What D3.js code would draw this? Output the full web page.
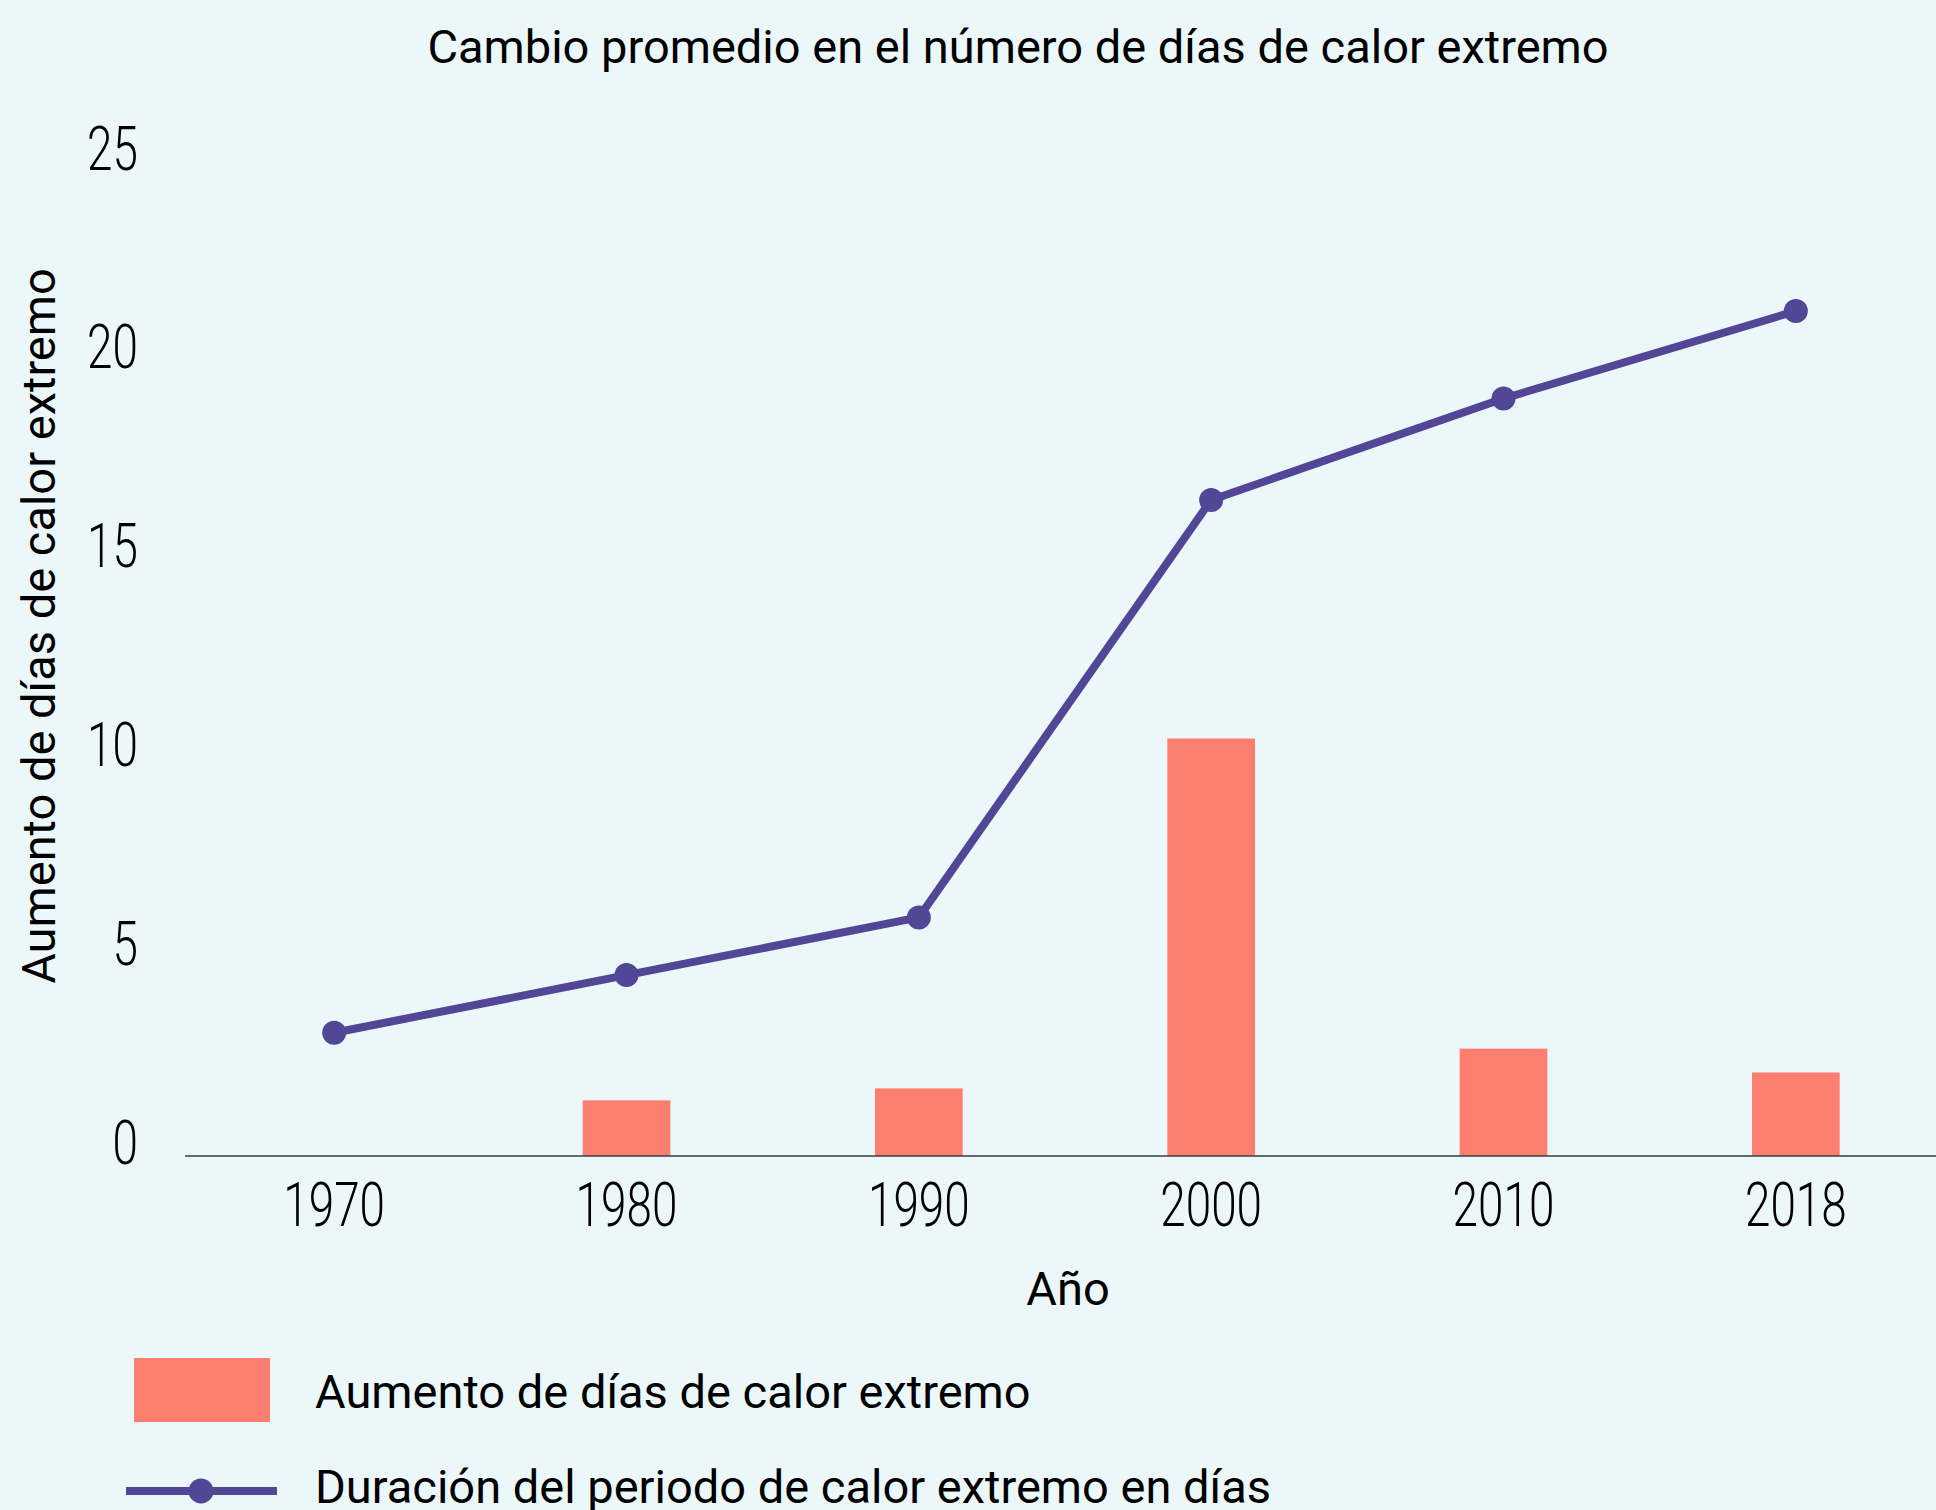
<!DOCTYPE html>
<html>
<head>
<meta charset="utf-8">
<script src="https://cdn.jsdelivr.net/npm/d3@7"></script>
<style>
  html, body { margin: 0; padding: 0; background: #ecf7f9; }
  svg { display: block; font-family: Roboto, "Noto Sans", sans-serif; }
</style>
</head>
<body>
<svg id="chart"></svg>
<script>
// Chart data
const years = ["1970", "1980", "1990", "2000", "2010", "2018"];
const increaseDays = [0, 1.4, 1.7, 10.5, 2.7, 2.1];
const durationDays = [3.1, 4.55, 6.0, 16.5, 19.05, 21.25];
const yTicks = [0, 5, 10, 15, 20, 25];

const titleText = "Cambio promedio en el número de días de calor extremo";
const yLabelText = "Aumento de días de calor extremo";
const xLabelText = "Año";
const legendLabels = ["Aumento de días de calor extremo", "Duración del periodo de calor extremo en días"];

// SVG configurations
const width = 1936;
const height = 1510;
const barColor = "#fc7e6e";
const lineColor = "#524696";
const tickScaleX = 0.74;

const svg = d3.select("#chart")
              .attr("width", width)
              .attr("height", height);

svg.append("rect")
     .attr("width", width)
     .attr("height", height)
     .attr("fill", "#ecf7f9");

// Scales
const xScale = d3.scaleBand()
                 .domain(years)
                 .range([188, 1942])
                 .paddingInner(0.7)
                 .paddingOuter(0.35);

const yScale = d3.scaleLinear()
                 .domain([0, 25])
                 .range([1156, 162]);

// Y axis (labels only)
const yAxisG = svg.append("g")
                    .attr("transform", "translate(138,0)")
                    .call(d3.axisLeft(yScale).tickValues(yTicks).tickSize(0).tickPadding(0));
yAxisG.select(".domain").remove();
yAxisG.selectAll("text")
        .attr("x", 0)
        .attr("y", 7)
        .attr("dy", null)
        .attr("text-anchor", "end")
        .attr("transform", `scale(${tickScaleX},1)`)
        .style("font-family", "Roboto")
        .style("font-weight", 300)
        .style("font-size", "62px")
        .attr("fill", "#000");

// X axis
const xAxisG = svg.append("g")
                    .attr("transform", `translate(0,${yScale(0)})`)
                    .call(d3.axisBottom(xScale).tickSize(0).tickPadding(0));
xAxisG.select(".domain").remove();
xAxisG.selectAll("text")
        .attr("y", 70)
        .attr("dy", null)
        .attr("transform", `scale(${tickScaleX},1)`)
        .style("font-family", "Roboto")
        .style("font-weight", 300)
        .style("font-size", "62px")
        .attr("fill", "#000");

// Bars
svg.selectAll(".bar")
   .data(years.map((y, i) => ({ year: y, value: increaseDays[i] })))
   .join("rect")
     .attr("class", "bar")
     .attr("x", d => xScale(d.year))
     .attr("y", d => yScale(d.value))
     .attr("width", xScale.bandwidth())
     .attr("height", d => yScale(0) - yScale(d.value))
     .attr("fill", barColor);

// Baseline
svg.append("line")
     .attr("x1", 185)
     .attr("x2", width)
     .attr("y1", yScale(0))
     .attr("y2", yScale(0))
     .attr("stroke", "#3a3f44")
     .attr("stroke-width", 1.5);

// Line
const lineData = years.map((y, i) => ({ year: y, value: durationDays[i] }));
const cx = d => xScale(d.year) + xScale.bandwidth() / 2;

svg.append("path")
     .datum(lineData)
     .attr("fill", "none")
     .attr("stroke", lineColor)
     .attr("stroke-width", 8)
     .attr("stroke-linejoin", "round")
     .attr("d", d3.line().x(cx).y(d => yScale(d.value)));

svg.selectAll(".dot")
   .data(lineData)
   .join("circle")
     .attr("class", "dot")
     .attr("cx", cx)
     .attr("cy", d => yScale(d.value))
     .attr("r", 12)
     .attr("fill", lineColor);

// Title
svg.append("text")
     .attr("x", 1018)
     .attr("y", 63)
     .attr("text-anchor", "middle")
     .style("font-size", "47px")
     .text(titleText);

// Axis labels
svg.append("text")
     .attr("transform", "translate(55,626) rotate(-90)")
     .attr("text-anchor", "middle")
     .style("font-size", "47px")
     .text(yLabelText);

svg.append("text")
     .attr("x", 1068)
     .attr("y", 1305)
     .attr("text-anchor", "middle")
     .style("font-size", "47px")
     .text(xLabelText);

// Legend
const legend = svg.append("g");
legend.append("rect")
        .attr("x", 134)
        .attr("y", 1358)
        .attr("width", 136)
        .attr("height", 64)
        .attr("fill", barColor);
legend.append("text")
        .attr("x", 315)
        .attr("y", 1408)
        .style("font-size", "47px")
        .text(legendLabels[0]);

legend.append("line")
        .attr("x1", 126)
        .attr("x2", 277)
        .attr("y1", 1491)
        .attr("y2", 1491)
        .attr("stroke", lineColor)
        .attr("stroke-width", 8);
legend.append("circle")
        .attr("cx", 201)
        .attr("cy", 1491)
        .attr("r", 12.5)
        .attr("fill", lineColor);
legend.append("text")
        .attr("x", 315)
        .attr("y", 1503)
        .style("font-size", "47px")
        .text(legendLabels[1]);
</script>
</body>
</html>
